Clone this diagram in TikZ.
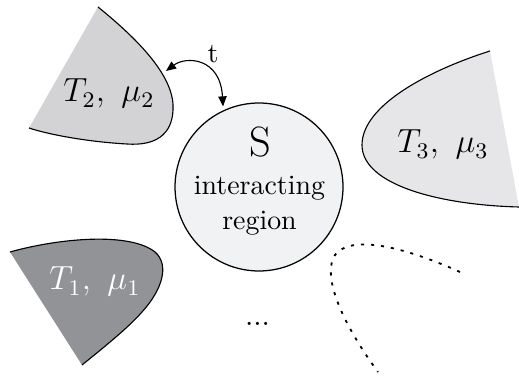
\documentclass[tikz,border=0pt]{standalone}
\usetikzlibrary{arrows.meta}
\definecolor{tone}{HTML}{929397}
\definecolor{ttwo}{HTML}{D3D3D5}
\definecolor{tthree}{HTML}{E6E6E8}
\definecolor{sfill}{HTML}{F1F2F4}
\begin{document}
\begin{tikzpicture}[x=0.3584pt,y=-0.3584pt,
  edge/.style={line width=0.4pt},
  lbl/.style={inner sep=0pt, anchor=base},
  tlbl/.style={lbl, font=\large}]
\useasboundingbox (0,0) rectangle (519,376);
% T2
\fill[ttwo] (98,7) .. controls (145,45) and (175,80) .. (173,110) .. controls (172,135) and (155,146) .. (127,144) .. controls (90,142) and (50,135) .. (29,128) -- cycle;
\draw[edge] (98,7) .. controls (145,45) and (175,80) .. (173,110) .. controls (172,135) and (155,146) .. (127,144) .. controls (90,142) and (50,135) .. (29,128);
% T3
\fill[tthree] (490,51) .. controls (430,70) and (362,105) .. (362,145) .. controls (362,185) and (440,205) .. (519,207) -- cycle;
\draw[edge] (490,51) .. controls (430,70) and (362,105) .. (362,145) .. controls (362,185) and (440,205) .. (519,207);
% T1
\fill[tone] (10,252) .. controls (60,238) and (130,232) .. (155,252) .. controls (170,265) and (162,290) .. (142,312) .. controls (128,328) and (103,348) .. (82,365) -- cycle;
\draw[edge] (10,252) .. controls (60,238) and (130,232) .. (155,252) .. controls (170,265) and (162,290) .. (142,312) .. controls (128,328) and (103,348) .. (82,365);
% S
\node[circle, draw, fill=sfill, line width=0.45pt, minimum size=60.2pt, inner sep=0pt] (S) at (259,187) {};
\node[lbl] (sname) at (260,157) {\fontsize{15.2}{18}\selectfont S};
\node[lbl] (sl1) at (259.5,195) {interacting};
\node[lbl] (sl2) at (259.5,230) {region};
% labels
\node[tlbl] (l2) at (109,102) {$T_2,\ \mu_2$};
\node[tlbl] (l3) at (443,153) {$T_3,\ \mu_3$};
\node[tlbl, text=white] (l1) at (95,290) {$T_1,\ \mu_1$};
\node[lbl, font=\fontsize{10.7}{12}\selectfont] (dots) at (257.5,325.5) {...};
\node[lbl] (t) at (213,63) {t};
% arrow
\coordinate (t2e) at (166,71);
\draw[edge, {Triangle[length=3.6pt,width=3pt]}-{Triangle[length=3.6pt,width=3pt]}, shorten >=1.4pt] (t2e) .. controls +(20,-15) and +(-3,-53) .. (S.115);
% dotted curve
\draw[line width=0.65pt, dash pattern=on 1.1pt off 2.5pt] (460,272) .. controls (400,245) and (350,235) .. (335,255) .. controls (322,275) and (340,320) .. (378,372);
\end{tikzpicture}
\end{document}
